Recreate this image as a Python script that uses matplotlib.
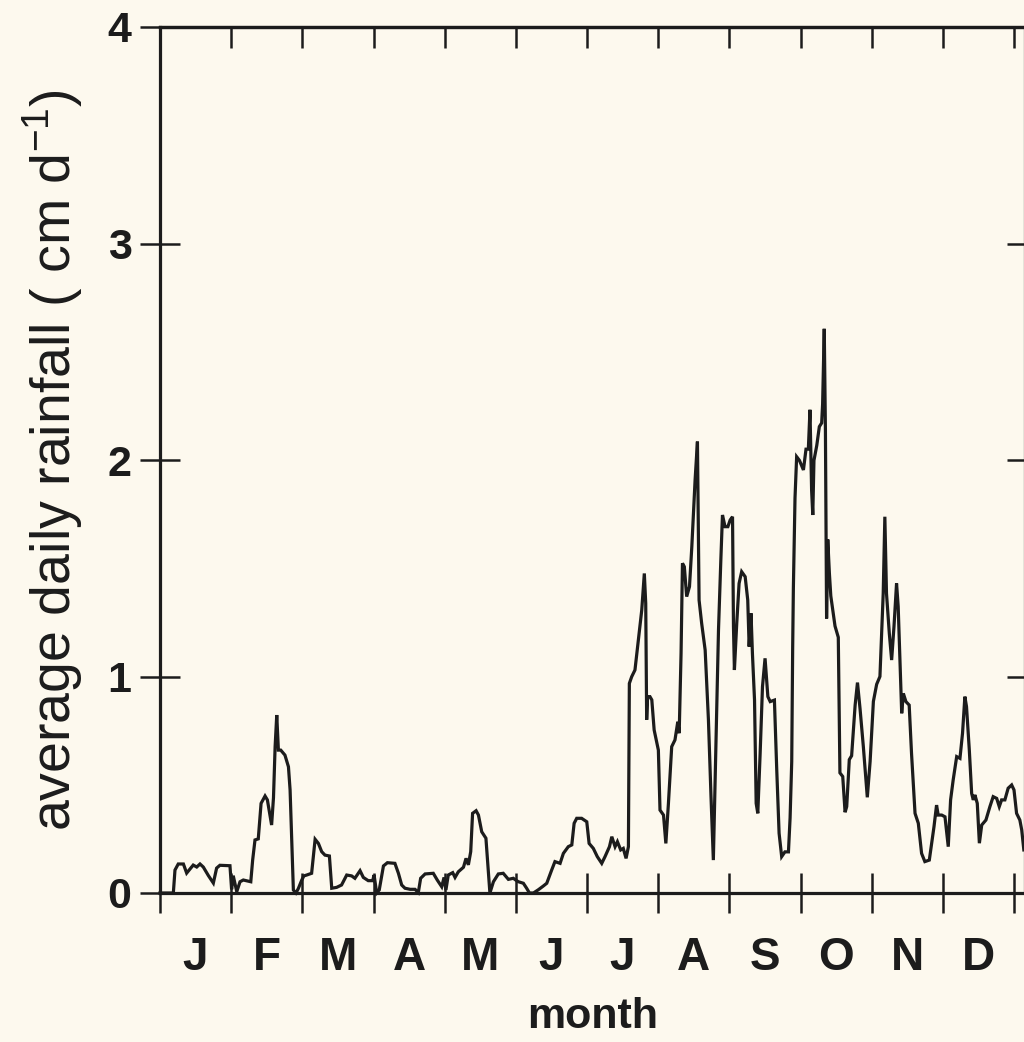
import matplotlib
matplotlib.use("Agg")
import matplotlib.pyplot as plt
import numpy as np

plt.rcParams['font.family'] = ['Liberation Sans', 'DejaVu Sans']
plt.rcParams['mathtext.fontset'] = 'custom'
plt.rcParams['mathtext.rm'] = 'Liberation Sans'

months = ['J', 'F', 'M', 'A', 'M', 'J', 'J', 'A', 'S', 'O', 'N', 'D']
yticks = [0, 1, 2, 3, 4]

day = [0, 5.7, 6.4, 7.8, 10.0, 11.4, 14.2, 15.7, 17.1, 18.5, 20.7, 22.8, 24.2, 25.6, 29.9,
       30.6, 31.3, 32.8, 34.2, 35.6, 38.8, 39.6, 40.6, 42.0, 43.2, 44.9, 45.9, 47.7, 48.5,
       49.2, 49.9, 50.6, 51.6, 53.4, 54.9, 55.6, 57.0, 58.1, 59.1, 60.6, 61.5, 62.7, 64.8,
       66.3, 67.7, 69.1, 70.5, 72.4, 73.4, 75.5, 77.6, 79.8, 81.9, 83.3, 85.5, 86.9, 89.0,
       90.9, 91.5, 92.6, 93.7, 95.5, 97.2, 100.4, 101.9, 103.3, 104.7, 106.9, 109.0, 110.4,
       111.4, 113.3, 116.8, 118.5, 120.4, 121.4, 122.2, 123.2, 125.1, 126.1, 127.5, 129.7,
       130.8, 131.8, 132.8, 133.6, 135.1, 136.1, 137.5, 139.3, 140.3, 141.0, 142.5, 144.6,
       146.7, 148.9, 151.0, 152.4, 153.2, 155.3, 156.7, 157.9, 159.6, 161.7, 163.8, 165.3,
       167.4, 168.8, 171.0, 172.4, 174.5, 176.0, 177.0, 178.1, 180.2, 182.4, 183.4, 185.2,
       186.9, 188.8, 190.2, 192.1, 193.1, 194.5, 195.5, 196.9, 198.0, 199.2, 200.2, 200.6,
       201.6, 203.0, 205.9, 207.0, 207.6, 208.0, 208.4, 209.4, 210.2, 211.2, 213.0, 213.7,
       215.2, 216.2, 217.3, 218.7, 220.1, 221.3, 221.9, 222.7, 223.3, 224.1, 225.1, 226.3,
       227.3, 228.7, 229.7, 230.4, 231.5, 233.0, 234.4, 235.5, 236.5, 237.7, 238.7, 239.7,
       240.4, 241.5, 242.7, 243.7, 244.7, 245.1, 245.5, 246.5, 247.5, 248.6, 250.1, 251.2,
       251.8, 252.6, 253.2, 254.1, 254.8, 255.5, 256.5, 257.5, 258.6, 259.8, 260.8, 262.6,
       263.6, 264.6, 265.7, 267.1, 268.6, 269.3, 270.0, 270.4, 270.7, 271.4, 272.1, 273.3,
       275.0, 276.1, 277.1, 277.8, 278.5, 279.0, 279.5, 280.7, 281.8, 282.8, 283.2, 283.9,
       284.4, 284.9, 285.4, 286.1, 286.7, 288.5, 289.9, 290.6, 291.8, 292.8, 293.5, 294.6,
       295.6, 297.1, 298.1, 299.2, 300.6, 302.3, 303.5, 304.9, 306.3, 307.7, 309.1, 309.8,
       310.5, 311.7, 312.7, 313.7, 314.8, 315.5, 316.2, 317.0, 317.7, 318.8, 320.2, 321.2,
       322.7, 324.1, 325.5, 326.9, 328.8, 329.8, 330.8, 331.9, 332.6, 334.1, 335.5, 336.9,
       337.9, 339.0, 340.5, 341.9, 343.0, 344.0, 344.7, 345.9, 346.9, 347.6, 348.3, 349.3,
       350.2, 351.2, 353.0, 354.7, 356.1, 357.6, 358.7, 359.7, 361.1, 362.5, 364.0, 365.0,
       366.1, 367.5, 368.3, 369.2]

rain = [0, 0, 0.106, 0.134, 0.134, 0.092, 0.129, 0.12, 0.134, 0.12, 0.08, 0.046, 0.115, 0.128, 0.126,
        0.017, 0.08, 0.006, 0.052, 0.06, 0.052, 0.152, 0.245, 0.25, 0.414, 0.448, 0.43, 0.314, 0.44,
        0.676, 0.822, 0.66, 0.66, 0.637, 0.583, 0.476, 0.014, 0.0, 0.02, 0.06, 0.079, 0.083, 0.091,
        0.248, 0.229, 0.191, 0.175, 0.171, 0.022, 0.026, 0.037, 0.083, 0.079, 0.068, 0.103, 0.072, 0.057,
        0.057, 0.083, 0.0, 0.014, 0.125, 0.14, 0.137, 0.091, 0.037, 0.022, 0.017, 0.017, 0.002,
        0.068, 0.088, 0.091, 0.06, 0.029, 0.072, 0.014, 0.083, 0.094, 0.072, 0.098, 0.119,
        0.16, 0.13, 0.191, 0.368, 0.38, 0.36, 0.283, 0.253, 0.106, 0.0, 0.052, 0.088,
        0.091, 0.063, 0.068, 0.057, 0.052, 0.045, 0.022, 0.0, 0.0, 0.015, 0.032, 0.045,
        0.106, 0.145, 0.137, 0.183, 0.214, 0.222, 0.322, 0.345, 0.345, 0.329, 0.229, 0.206,
        0.168, 0.137, 0.168, 0.214, 0.26, 0.214, 0.237, 0.199, 0.206, 0.16, 0.214, 0.968,
        0.999, 1.03, 1.307, 1.476, 1.338, 0.8, 0.907, 0.907, 0.892, 0.753, 0.66, 0.383,
        0.36, 0.229, 0.414, 0.676, 0.707, 0.791, 0.738, 1.107, 1.523, 1.507, 1.369, 1.415,
        1.6, 1.908, 2.085, 1.353, 1.246, 1.122, 0.799, 0.445, 0.152, 0.722, 1.215, 1.538,
        1.746, 1.692, 1.692, 1.723, 1.738, 1.23, 1.03, 1.246, 1.43, 1.484, 1.461, 1.353,
        1.138, 1.292, 1.107, 0.891, 0.414, 0.368, 0.645, 0.953, 1.084, 0.907, 0.884, 0.891,
        0.568, 0.276, 0.168, 0.19, 0.19, 0.347, 0.607, 1.129, 1.407, 1.824, 2.015, 1.998,
        1.954, 2.05, 2.05, 2.232, 1.859, 1.746, 1.998, 2.067, 2.154, 2.171, 2.258, 2.606,
        2.137, 1.268, 1.633, 1.476, 1.372, 1.233, 1.181, 0.555, 0.538, 0.373, 0.399, 0.616,
        0.634, 0.868, 0.972, 0.851, 0.677, 0.442, 0.607, 0.885, 0.964, 1.0, 1.384, 1.738,
        1.384, 1.2, 1.076, 1.23, 1.43, 1.323, 1.092, 0.83, 0.922, 0.884, 0.868, 0.645,
        0.368, 0.322, 0.183, 0.145, 0.152, 0.23, 0.306, 0.406, 0.36, 0.36, 0.352, 0.214,
        0.43, 0.522, 0.63, 0.622, 0.738, 0.907, 0.861, 0.66, 0.46, 0.43, 0.453, 0.414,
        0.23, 0.314, 0.337, 0.399, 0.445, 0.437, 0.399, 0.43, 0.43, 0.484, 0.499, 0.476,
        0.368, 0.337, 0.291, 0.199]

BG = '#fdf9ee'
INK = '#1c1c1c'

fig = plt.figure(figsize=(10.24, 10.42), dpi=100, facecolor=BG)
W, H = 1024, 1042
ax = fig.add_axes([160 / W, (H - 893) / H, (1025 - 160) / W, (893 - 27) / H])
ax.set_facecolor(BG)

ax.plot(day, rain, color=INK, lw=2.3, solid_joinstyle='miter', clip_on=False)

ax.set_xlim(0, 369.7)
ax.set_ylim(0, 4)

for s in ax.spines.values():
    s.set_linewidth(2.3)
    s.set_color(INK)

bounds = np.arange(13) * 365 / 12
mids = (bounds[:-1] + bounds[1:]) / 2
ax.set_xticks(bounds)
ax.set_xticklabels([])
ax.set_xticks(mids, minor=True)
ax.set_xticklabels(months, minor=True, fontsize=33, fontweight='bold', color=INK)
ax.tick_params(axis='x', which='major', direction='inout', length=29, width=1.8,
               color=INK, top=False, bottom=True)
ax.tick_params(axis='x', which='minor', length=0, pad=31)

ax.set_yticks(yticks)
ax.set_yticklabels([str(v) for v in yticks], fontsize=31, fontweight='bold', color=INK)
ax.tick_params(axis='y', which='major', direction='inout', length=29, width=1.8,
               color=INK, left=True, right=False, pad=6)

secx = ax.secondary_xaxis('top')
secx.set_xticks(bounds)
secx.set_xticklabels([])
secx.tick_params(direction='in', length=15, width=1.8, color=INK)
secx.spines['top'].set_linewidth(2.3)

secy = ax.secondary_yaxis('right')
secy.set_yticks(yticks)
secy.set_yticklabels([])
secy.tick_params(direction='in', length=13, width=1.8, color=INK)
secy.spines['right'].set_linewidth(2.3)

ax.set_xlabel('month', fontsize=31, fontweight='bold', color=INK, labelpad=12)
ax.set_ylabel('average daily rainfall ( cm d$^{\\mathregular{-1}}$)', fontsize=40,
              color=INK, labelpad=16)

fig.savefig('out.png', dpi=100, facecolor=BG)
